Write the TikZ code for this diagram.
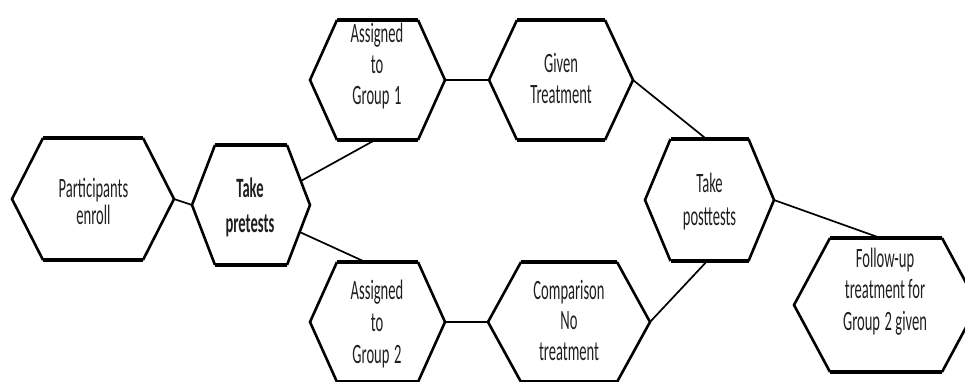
\documentclass[tikz,border=0pt]{standalone}
\usepackage{fontspec}
\setmainfont{Carlito}[FakeStretch=0.52]
\usetikzlibrary{calc}
\newcommand\hexa[6]{%
  \coordinate (#1) at (#2,#3);
  \coordinate (#1-l) at (#2-#4,#3);
  \coordinate (#1-r) at (#2+#4,#3);
  \coordinate (#1-tl) at (#2-#5,#3-#6);
  \coordinate (#1-tr) at (#2+#5,#3-#6);
  \coordinate (#1-bl) at (#2-#5,#3+#6);
  \coordinate (#1-br) at (#2+#5,#3+#6);
  \draw[hexside] (#1-tl) -- (#1-l) -- (#1-bl) (#1-tr) -- (#1-r) -- (#1-br);
  \draw[hexcap] (#1-tl) -- (#1-tr) (#1-bl) -- (#1-br);
}
\newcommand\fs[1]{\fontsize{28}{#1}\selectfont\lineskiplimit=-50pt\lineskip=0pt}
\newcommand\st{\rule{0pt}{22pt}}
\begin{document}
\begin{tikzpicture}[x=1pt,y=-1pt,
  hexside/.style={line width=2.6pt,line join=miter,black},
  hexcap/.style={line width=4.6pt,line cap=butt,black},
  link/.style={line width=1.7pt,black},
  lbl/.style={anchor=north,inner sep=0pt,align=center,text=black!88}]
\useasboundingbox (0,0) rectangle (965,382);
\clip (0,0) rectangle (965,382);
\hexa{h1}{93}{199}{81}{50}{61}
\hexa{h2}{251}{205}{59}{36}{60}
\hexa{h3}{377.5}{80}{67.5}{40.5}{60}
\hexa{h4}{561}{80}{72}{44}{60}
\hexa{h5}{377.5}{322}{67.5}{40.5}{60}
\hexa{h6}{569}{322}{81}{48}{60}
\hexa{h7}{709.5}{200}{64.5}{39}{61}
\hexa{h8}{886}{305}{92}{56}{67}
% connection points
\coordinate (p2a) at ($(h2-tr)!0.6!(h2-r)$);
\coordinate (p3a) at ($(h3-bl)!0.47!(h3-br)$);
\coordinate (p2b) at ($(h2-r)!0.45!(h2-br)$);
\coordinate (p5a) at ($(h5-tl)!0.35!(h5-tr)$);
\coordinate (p7a) at ($(h7-tl)!0.46!(h7-tr)$);
\coordinate (p7b) at ($(h7-bl)!0.47!(h7-br)$);
\coordinate (p8a) at ($(h8-tl)!0.45!(h8-tr)$);
\draw[link] (h1-r) -- (h2-l);
\draw[link] (p2a) -- (p3a);
\draw[link] (p2b) -- (p5a);
\draw[link] (h3-r) -- (h4-l);
\draw[link] (h5-r) -- (h6-l);
\draw[link] (h4-r) -- (p7a);
\draw[link] (p7b) -- (h6-r);
\draw[link] (h7-r) -- (p8a);
% labels
\node[lbl,font=\fs{27}] (t1) at (93.5,175) {\st Participants\\enroll};
\node[lbl,font=\fs{35}\bfseries] (t2) at (250,175) {\st Take\\pretests};
\node[lbl,font=\fs{31}] (t3) at (377,20) {\st Assigned\\to\\Group\,1};
\node[lbl,font=\fs{31}] (t4) at (561,50) {\st Given\\Treatment};
\node[lbl,font=\fs{32}] (t5) at (377,277) {\st Assigned\\to\\Group\,2};
\node[lbl,font=\fs{30.5}] (t6) at (569,277) {\st Comparison\\No\\treatment};
\node[lbl,font=\fs{33}] (t7) at (709.5,170) {\st Take\\posttests};
\node[lbl,font=\fs{31.5}] (t8) at (885,245) {\st Follow-up\\treatment for\\Group\,2 given};
\end{tikzpicture}
\end{document}
